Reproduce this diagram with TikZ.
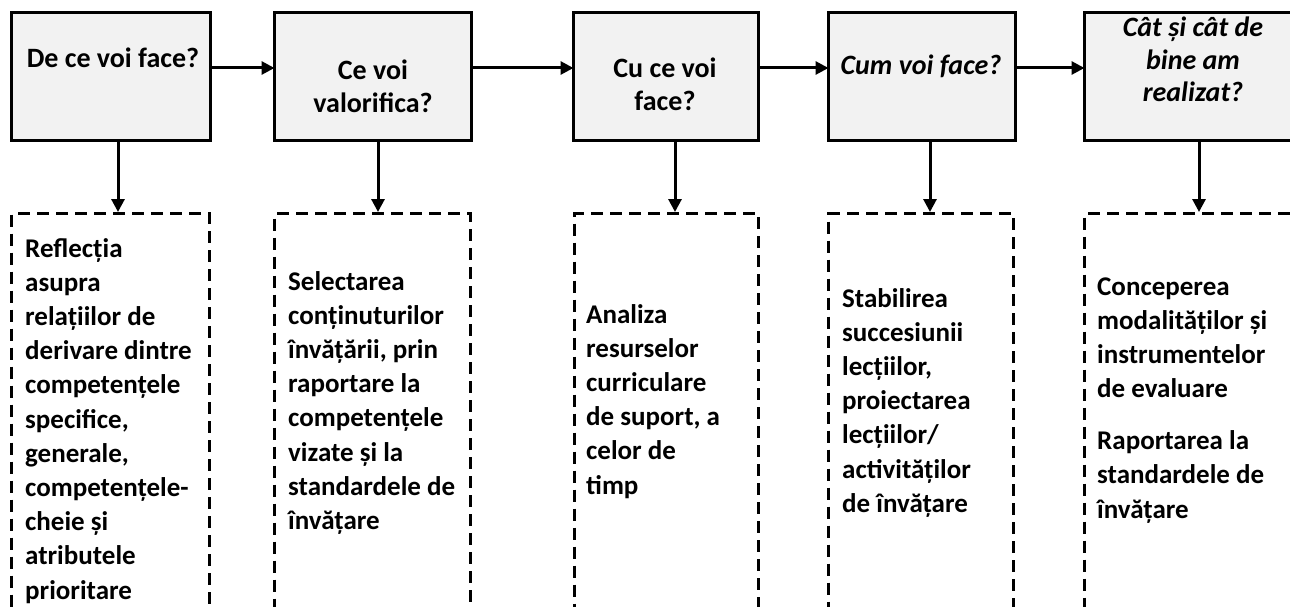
\documentclass[tikz,border=0pt]{standalone}
\usepackage{fontspec}
\setmainfont{Carlito}
\usetikzlibrary{arrows.meta}
\newcommand{\ctrlines}[1]{\parbox[t]{240pt}{\centering #1}}
\newcommand{\leftlines}[1]{\parbox[t]{240pt}{\raggedright #1}}
\begin{document}
\begin{tikzpicture}[x=1pt,y=-1pt,
  topbox/.style={draw=black,line width=3pt,fill=black!5,minimum width=#1,minimum height=127.5pt,anchor=north west,inner sep=0pt,outer sep=0pt},
  dashbox/.style={draw=black,line width=3pt,dash pattern=on 12pt off 7pt,minimum width=#1,minimum height=420pt,anchor=north west,inner sep=0pt,outer sep=0pt},
  toptext/.style={font=\bfseries\fontsize{28}{32.5}\selectfont,anchor=base,inner sep=0pt},
  topital/.style={toptext,font=\bfseries\itshape\fontsize{28}{32.5}\selectfont},
  bodytext/.style={font=\bfseries\fontsize{27}{34.2}\selectfont,anchor=base west,inner sep=0pt},
  arr/.style={line width=3pt,-{Triangle[length=13pt,width=13pt]}}]
\useasboundingbox (0,0) rectangle (1290,607);
\fill[white] (0,0) rectangle (1290,607);
\begin{scope}
\clip (0,0) rectangle (1290,607);
% top boxes
\node[topbox=199pt] (t1) at (11.5,13) {};
\node[topbox=197pt] (t2) at (274.5,13) {};
\node[topbox=185pt] (t3) at (573.5,13) {};
\node[topbox=187pt] (t4) at (828.5,13) {};
\node[topbox=225pt] (t5) at (1084.5,13) {};
% dashed boxes
\node[dashbox=198pt] (d1) at (11.5,213.5) {};
\node[dashbox=196pt] (d2) at (274.5,213.5) {};
\node[dashbox=184pt] (d3) at (574.5,213.5) {};
\node[dashbox=185pt] (d4) at (828.5,213.5) {};
\node[dashbox=225pt] (d5) at (1084.5,213.5) {};
% top texts
\node[toptext] (h1) at (113,68) {\ctrlines{De ce voi face?}};
\node[toptext] (h2) at (373,80) {\ctrlines{Ce voi\\valorifica?}};
\node[toptext] (h3) at (665,78) {\ctrlines{Cu ce voi\\face?}};
\node[topital] (h4) at (921,75) {\ctrlines{Cum voi face?}};
\node[topital] (h5) at (1193,37) {\ctrlines{Cât și cât de\\bine am\\realizat?}};
% body texts
\node[bodytext] (b1) at (25,257) {\leftlines{Reflecția\\asupra\\relațiilor de\\derivare dintre\\competențele\\specifice,\\generale,\\competențele-\\cheie și\\atributele\\prioritare}};
\node[bodytext] (b2) at (288,290) {\leftlines{Selectarea\\conținuturilor\\învățării, prin\\raportare la\\competențele\\vizate și la\\standardele de\\învățare}};
\node[bodytext] (b3) at (586,323) {\leftlines{Analiza\\resurselor\\curriculare\\de suport, a\\celor de\\timp}};
\node[bodytext] (b4) at (842,307) {\leftlines{Stabilirea\\succesiunii\\lecțiilor,\\proiectarea\\lecțiilor/\\activităților\\de învățare}};
\node[bodytext] (b5) at (1097,295) {\leftlines{Conceperea\\modalităților și\\instrumentelor\\de evaluare\\[17.8pt]Raportarea la\\standardele de\\învățare}};
% arrows
\coordinate (hy) at (0,68);
\draw[arr] (t1.east |- hy) -- (t2.west |- hy);
\draw[arr] (t2.east |- hy) -- (t3.west |- hy);
\draw[arr] (t3.east |- hy) -- (t4.west |- hy);
\draw[arr] (t4.east |- hy) -- (t5.west |- hy);
\coordinate (v1) at (118,0);
\coordinate (v2) at (378,0);
\coordinate (v3) at (675,0);
\coordinate (v4) at (930,0);
\coordinate (v5) at (1199,0);
\draw[arr,shorten >=1.5pt] (t1.south -| v1) -- (d1.north -| v1);
\draw[arr,shorten >=1.5pt] (t2.south -| v2) -- (d2.north -| v2);
\draw[arr,shorten >=1.5pt] (t3.south -| v3) -- (d3.north -| v3);
\draw[arr,shorten >=1.5pt] (t4.south -| v4) -- (d4.north -| v4);
\draw[arr,shorten >=1.5pt] (t5.south -| v5) -- (d5.north -| v5);
\end{scope}
\end{tikzpicture}
\end{document}
